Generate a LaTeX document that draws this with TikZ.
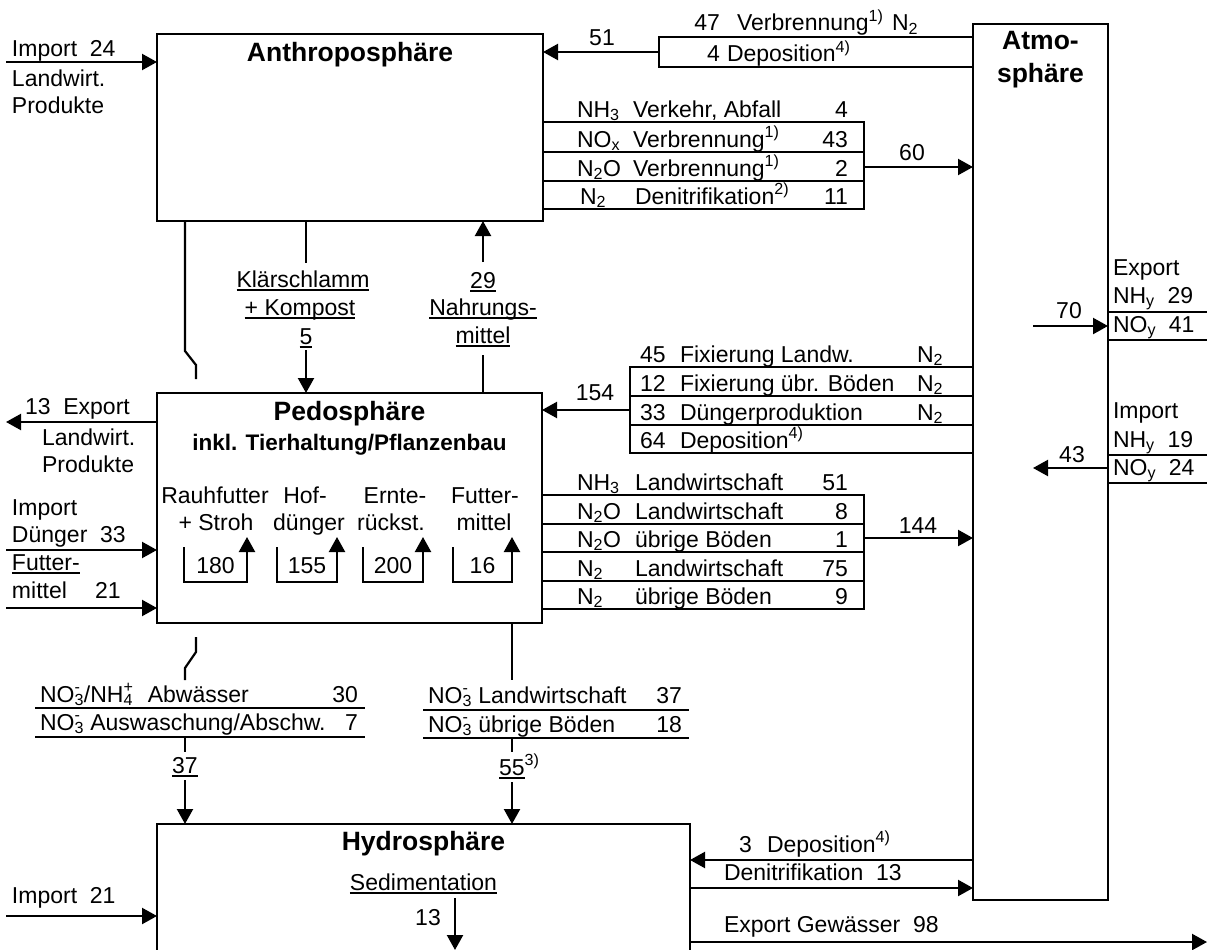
\documentclass[tikz,border=0pt]{standalone}
\usepackage{fontspec}
\setmainfont{Liberation Sans}
\usetikzlibrary{arrows.meta}
\newcommand{\uln}[1]{\leavevmode\setbox0\hbox{#1}\rlap{\rule[-3.5pt]{\wd0}{1.6pt}}\box0}
\newcommand{\sbs}[1]{\textsubscript{#1}}
\newcommand{\sps}[1]{\textsuperscript{#1}}
\newcommand{\nothree}{NO\rlap{\textsuperscript{-}}\textsubscript{3}}
\newcommand{\nhfour}{NH\rlap{\textsuperscript{+}}\textsubscript{4}\kern2pt}
\begin{document}
\begin{tikzpicture}[x=1pt,y=-1pt,
  box/.style={draw, line width=2.2pt, inner sep=0pt, outer sep=0pt, anchor=north west},
  t/.style={inner sep=0pt, outer sep=0pt, font=\fontsize{23}{27}\selectfont},
  ttl/.style={inner sep=0pt, outer sep=0pt, font=\fontsize{26.5}{30}\selectfont\bfseries},
  stl/.style={inner sep=0pt, outer sep=0pt, font=\fontsize{22.5}{26}\selectfont\bfseries},
  ln/.style={line width=2.2pt},
  arr/.style={line width=2.2pt, -{Triangle[length=15pt,width=16pt]}}]
\useasboundingbox (0,0) rectangle (1210,950);
\fill[white] (0,0) rectangle (1210,950);

% main boxes
\node[box, minimum width=386pt, minimum height=187pt] (ant) at (157,34) {};
\node[box, minimum width=135pt, minimum height=876pt] (atm) at (973,24) {};
\node[box, minimum width=385pt, minimum height=230pt] (ped) at (157,393) {};
\node[box, minimum width=533pt, minimum height=160pt] (hyd) at (157,824) {};

% titles
\node[ttl, anchor=base] (antT) at (ant.north |- 0,62) {Anthroposphäre};
\node[ttl, anchor=base] (atmT1) at (atm.north |- 0,50) {Atmo-};
\node[ttl, anchor=base] (atmT2) at (atm.north |- 0,82) {sphäre};
\node[ttl, anchor=base] (pedT) at (ped.north |- 0,420) {Pedosphäre};
\node[stl, anchor=base] (pedT2) at (ped.north |- 0,450) {inkl. Tierhaltung/Pflanzenbau};
\node[ttl, anchor=base] (hydT) at (hyd.north |- 0,850) {Hydrosphäre};

% Import 24
\coordinate (imp1) at (6,62);
\draw[arr] (imp1) -- (ant.west |- imp1);
\node[t, anchor=base west] (imp1a) at (12,57) {Import\ \ 24};
\node[t, anchor=base west] (imp1b) at (12,87) {Landwirt.};
\node[t, anchor=base west] (imp1c) at (12,113) {Produkte};

% Atmosphere -> Anthroposphere
\node[box, minimum width=314pt, minimum height=30pt] (dep) at (659,37) {};
\draw[arr] (dep.west) -- (ant.east |- dep.west);
\node[t, anchor=base] (n51) at (602,46) {51};
\node[t, anchor=base east] (n47) at (720,31) {47};
\node[t, anchor=base west] (v47) at (737,31) {Verbrennung\sps{1)}};
\node[t, anchor=base west] (v47n) at (892,31) {N\sbs{2}};
\node[t, anchor=base east] (n4) at (720,62) {4};
\node[t, anchor=base west] (d4) at (727,62) {Deposition\sps{4)}};

% Anthroposphere -> Atmosphere
\node[box, minimum width=321pt, minimum height=87pt] (tA) at (543,122) {};
\draw[ln] (tA.west |- 0,152) -- (tA.east |- 0,152);
\draw[ln] (tA.west |- 0,181) -- (tA.east |- 0,181);
\node[t, anchor=base west] (a1) at (577,117) {NH\sbs{3}};
\node[t, anchor=base west] (a1b) at (633,117) {Verkehr, Abfall};
\node[t, anchor=base east] (a1c) at (848,117) {4};
\node[t, anchor=base west] (a2) at (577,147) {NO\sbs{x}};
\node[t, anchor=base west] (a2b) at (633,147) {Verbrennung\sps{1)}};
\node[t, anchor=base east] (a2c) at (848,147) {43};
\node[t, anchor=base west] (a3) at (577,176) {N\sbs{2}O};
\node[t, anchor=base west] (a3b) at (633,176) {Verbrennung\sps{1)}};
\node[t, anchor=base east] (a3c) at (848,176) {2};
\node[t, anchor=base west] (a4) at (580,204) {N\sbs{2}};
\node[t, anchor=base west] (a4b) at (635,204) {Denitrifikation\sps{2)}};
\node[t, anchor=base east] (a4c) at (848,204) {11};
\draw[arr] (tA.east |- 0,167) -- (atm.west |- 0,167);
\node[t, anchor=base] (n60) at (912,160) {60};

% Klaerschlamm
\coordinate (k1) at (306,263);
\draw[ln] (ant.south -| k1) -- (k1);
\node[t, anchor=base] (k2) at (303,287) {\uln{Klärschlamm}};
\node[t, anchor=base] (k3) at (300,315) {\uln{+ Kompost}};
\node[t, anchor=base] (k4) at (306,344) {\uln{5}};
\coordinate (k5) at (306,350);
\draw[arr] (k5) -- (ped.north -| k5);

% pipe line from Anthroposphere
\coordinate (p1) at (185,351);
\coordinate (p2) at (196,365);
\coordinate (p3) at (196,379);
\draw[ln] (ant.south -| p1) -- (p1) -- (p2) -- (p3);

% Nahrungsmittel
\coordinate (nm1) at (483,262);
\draw[arr] (nm1) -- (ant.south -| nm1);
\node[t, anchor=base] (nm2) at (483,288) {\uln{29}};
\node[t, anchor=base] (nm3) at (483,315) {\uln{Nahrungs-}};
\node[t, anchor=base] (nm4) at (483,343) {\uln{mittel}};
\coordinate (nm5) at (483,355);
\draw[ln] (ped.north -| nm5) -- (nm5);

% Atmosphere -> Pedosphere
\node[box, minimum width=343pt, minimum height=86pt] (fix) at (630,367) {};
\draw[ln] (fix.west |- 0,396) -- (fix.east |- 0,396);
\draw[ln] (fix.west |- 0,425) -- (fix.east |- 0,425);
\draw[arr] (fix.west) -- (ped.east |- fix.west);
\node[t, anchor=base] (n154) at (595,400) {154};
\node[t, anchor=base west] (f1) at (640,362) {45};
\node[t, anchor=base west] (f1b) at (680,362) {Fixierung Landw.};
\node[t, anchor=base west] (f1c) at (917,362) {N\sbs{2}};
\node[t, anchor=base west] (f2) at (640,391) {12};
\node[t, anchor=base west] (f2b) at (680,391) {Fixierung übr. Böden};
\node[t, anchor=base west] (f2c) at (917,391) {N\sbs{2}};
\node[t, anchor=base west] (f3) at (640,420) {33};
\node[t, anchor=base west] (f3b) at (680,420) {Düngerproduktion};
\node[t, anchor=base west] (f3c) at (917,420) {N\sbs{2}};
\node[t, anchor=base west] (f4) at (640,448) {64};
\node[t, anchor=base west] (f4b) at (680,448) {Deposition\sps{4)}};

% Pedosphere -> Atmosphere
\node[box, minimum width=322pt, minimum height=114pt] (out) at (542,495) {};
\draw[ln] (out.west |- 0,524) -- (out.east |- 0,524);
\draw[ln] (out.west |- 0,552) -- (out.east |- 0,552);
\draw[ln] (out.west |- 0,581) -- (out.east |- 0,581);
\node[t, anchor=base west] (o1) at (577,490) {NH\sbs{3}};
\node[t, anchor=base west] (o1b) at (635,490) {Landwirtschaft};
\node[t, anchor=base east] (o1c) at (848,490) {51};
\node[t, anchor=base west] (o2) at (577,519) {N\sbs{2}O};
\node[t, anchor=base west] (o2b) at (635,519) {Landwirtschaft};
\node[t, anchor=base east] (o2c) at (848,519) {8};
\node[t, anchor=base west] (o3) at (577,547) {N\sbs{2}O};
\node[t, anchor=base west] (o3b) at (635,547) {übrige Böden};
\node[t, anchor=base east] (o3c) at (848,547) {1};
\node[t, anchor=base west] (o4) at (577,576) {N\sbs{2}};
\node[t, anchor=base west] (o4b) at (635,576) {Landwirtschaft};
\node[t, anchor=base east] (o4c) at (848,576) {75};
\node[t, anchor=base west] (o5) at (577,604) {N\sbs{2}};
\node[t, anchor=base west] (o5b) at (635,604) {übrige Böden};
\node[t, anchor=base east] (o5c) at (848,604) {9};
\draw[arr] (out.east |- 0,538) -- (atm.west |- 0,538);
\node[t, anchor=base] (n144) at (918,533) {144};

% Export / Import Atmosphere
\coordinate (ex1) at (1207,312);
\coordinate (ex2) at (1207,340);
\draw[ln] (atm.east |- ex1) -- (ex1);
\draw[ln] (atm.east |- ex2) -- (ex2);
\coordinate (a70) at (1033,326);
\draw[arr] (a70) -- (atm.east |- a70);
\node[t, anchor=base] (n70) at (1069,318) {70};
\node[t, anchor=base west] (x1) at (1113,275) {Export};
\node[t, anchor=base west] (x2) at (1113,303) {NH\sbs{y}\ \ 29};
\node[t, anchor=base west] (x3) at (1113,332) {NO\sbs{y}\ \ 41};
\coordinate (im1) at (1207,455);
\coordinate (im2) at (1207,483);
\draw[ln] (atm.east |- im1) -- (im1);
\draw[ln] (atm.east |- im2) -- (im2);
\coordinate (a43) at (1033,468);
\draw[arr] (atm.east |- a43) -- (a43);
\node[t, anchor=base] (n43) at (1072,462) {43};
\node[t, anchor=base west] (y1) at (1113,418) {Import};
\node[t, anchor=base west] (y2) at (1113,447) {NH\sbs{y}\ \ 19};
\node[t, anchor=base west] (y3) at (1113,475) {NO\sbs{y}\ \ 24};

% Pedosphere left side
\coordinate (ex3) at (6,422);
\draw[arr] (ped.west |- ex3) -- (ex3);
\node[t, anchor=base west] (l1) at (25,414) {13\ \ Export};
\node[t, anchor=base west] (l2) at (42,445) {Landwirt.};
\node[t, anchor=base west] (l3) at (42,472) {Produkte};
\coordinate (im3) at (6,550);
\draw[arr] (im3) -- (ped.west |- im3);
\node[t, anchor=base west] (l4) at (12,515) {Import};
\node[t, anchor=base west] (l5) at (12,542) {Dünger\ \ 33};
\coordinate (im4) at (6,608);
\draw[arr] (im4) -- (ped.west |- im4);
\node[t, anchor=base west] (l6) at (12,570) {\uln{Futter-}};
\node[t, anchor=base west] (l7) at (12,598) {mittel};
\node[t, anchor=base west] (l8) at (95,598) {21};

% internal cycles
\foreach \xl/\xr/\v/\nm in {184/247/180/c1, 277/337/155/c2, 363/423/200/c3, 453/512/16/c4}{
  \coordinate (\nm a) at (\xl,547);
  \coordinate (\nm b) at (\xl,582);
  \coordinate (\nm c) at (\xr,582);
  \coordinate (\nm d) at (\xr,537);
  \draw[arr] (\nm a) -- (\nm b) -- (\nm c) -- (\nm d);
  \node[t, anchor=base] (\nm n) at ({(\xl+\xr)/2},573) {\v};
}
\node[t, anchor=base] (r1a) at (215,503) {Rauhfutter};
\node[t, anchor=base] (r1b) at (216,530) {+ Stroh};
\node[t, anchor=base] (r2a) at (305,503) {Hof-};
\node[t, anchor=base] (r2b) at (309,530) {dünger};
\node[t, anchor=base] (r3a) at (395,503) {Ernte-};
\node[t, anchor=base] (r3b) at (391,530) {rückst.};
\node[t, anchor=base] (r4a) at (485,503) {Futter-};
\node[t, anchor=base] (r4b) at (484,530) {mittel};

% below Pedosphere
\coordinate (q1) at (196,637);
\coordinate (q2) at (196,652);
\coordinate (q3) at (185,668);
\coordinate (q4) at (185,680);
\draw[ln] (q1) -- (q2) -- (q3) -- (q4);
\coordinate (r1) at (512,680);
\draw[ln] (ped.south -| r1) -- (r1);

% left water table
\coordinate (lw1) at (35,708); \coordinate (lw2) at (365,708);
\coordinate (lw3) at (35,737); \coordinate (lw4) at (365,737);
\draw[ln] (lw1) -- (lw2);
\draw[ln] (lw3) -- (lw4);
\node[t, anchor=base west] (w1) at (40,702) {\nothree/\nhfour\ \ Abwässer};
\node[t, anchor=base east] (w1c) at (358,702) {30};
\node[t, anchor=base west] (w2) at (40,730) {\nothree\ Auswaschung/Abschw.};
\node[t, anchor=base east] (w2c) at (358,730) {7};
\coordinate (lw5) at (185,737); \coordinate (lw6) at (185,752);
\draw[ln] (lw5) -- (lw6);
\node[t, anchor=base] (w37) at (185,773) {\uln{37}};
\coordinate (lw7) at (185,780);
\draw[arr] (lw7) -- (hyd.north -| lw7);

% right water table
\coordinate (rw1) at (423,710); \coordinate (rw2) at (689,710);
\coordinate (rw3) at (423,738); \coordinate (rw4) at (689,738);
\draw[ln] (rw1) -- (rw2);
\draw[ln] (rw3) -- (rw4);
\node[t, anchor=base west] (v1) at (428,703) {\nothree\ Landwirtschaft};
\node[t, anchor=base east] (v1c) at (682,703) {37};
\node[t, anchor=base west] (v2) at (428,732) {\nothree\ übrige Böden};
\node[t, anchor=base east] (v2c) at (682,732) {18};
\coordinate (rw5) at (512,738); \coordinate (rw6) at (512,752);
\draw[ln] (rw5) -- (rw6);
\node[t, anchor=base west] (v55) at (499,775) {\uln{55}\sps{3)}};
\coordinate (rw7) at (512,782);
\draw[arr] (rw7) -- (hyd.north -| rw7);

% Hydrosphere
\coordinate (im5) at (6,916);
\draw[arr] (im5) -- (hyd.west |- im5);
\node[t, anchor=base west] (h1) at (12,903) {Import\ \ 21};
\node[t, anchor=base] (sed) at (hyd.north |- 0,890) {\uln{Sedimentation}};
\node[t, anchor=base] (s13) at (428,925) {13};
\coordinate (sd1) at (455,898);
\coordinate (sd2) at (455,950);
\draw[arr] (sd1) -- (sd2);
\draw[arr] (atm.west |- 0,860) -- (hyd.east |- 0,860);
\node[t, anchor=base east] (h3) at (752,852) {3};
\node[t, anchor=base west] (h3b) at (767,852) {Deposition\sps{4)}};
\draw[arr] (hyd.east |- 0,888) -- (atm.west |- 0,888);
\node[t, anchor=base west] (h4) at (724,880) {Denitrifikation\ \ 13};
\coordinate (gw) at (1207,942);
\draw[arr] (hyd.east |- gw) -- (gw);
\node[t, anchor=base west] (h5) at (724,932) {Export Gewässer\ \ 98};
\end{tikzpicture}
\end{document}
